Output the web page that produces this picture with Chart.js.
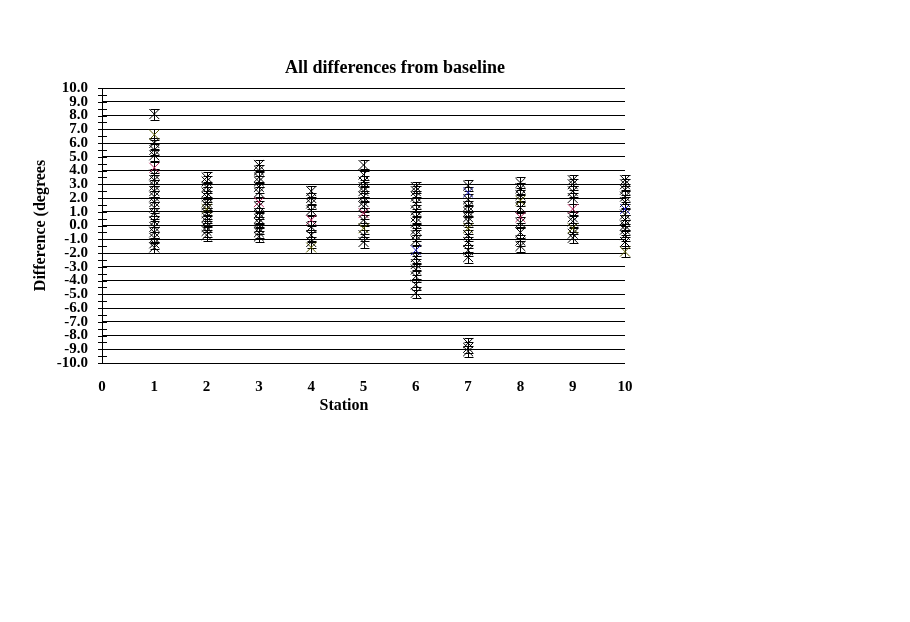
<!DOCTYPE html>
<html>
<head>
<meta charset="utf-8">
<script src="https://cdn.jsdelivr.net/npm/chart.js@4.4.1/dist/chart.umd.min.js"></script>
<style>
  body { margin: 0; background: #fff; }
  #chart { display: block; }
</style>
</head>
<body>
<canvas id="chart" width="910" height="622"></canvas>
<script>
// stations on the x axis
const stations = [1, 2, 3, 4, 5, 6, 7, 8, 9, 10];

// differences (degrees) per station, black markers
const station1 = [8.1, 6.0, 5.5, 5.1, 3.7, 3.3, 2.9, 2.5, 2.1, 1.7, 1.3, 0.9, 0.3, -0.1, -0.5, -0.9, -1.3, -1.6];
const station2 = [3.5, 3.2, 2.8, 2.4, 2.1, 1.7, 1.5, 0.9, 0.6, 0.3, -0.1, -0.4, -0.7];
const station3 = [4.4, 4.0, 3.5, 3.2, 2.8, 2.4, 1.4, 0.9, 0.5, 0.2, -0.2, -0.5, -0.8];
const station4 = [2.5, 2.0, 1.6, 1.1, -0.1, -0.7, -1.2];
const station5 = [4.4, 3.7, 3.2, 2.8, 2.5, 2.1, 1.7, 1.4, 0.4, -0.7, -1.2];
const station6 = [2.8, 2.5, 2.1, 1.6, 1.1, 0.6, 0.2, -0.3, -0.7, -1.1, -2.3, -2.8, -3.2, -3.7, -4.3, -4.9];
const station7 = [2.9, 1.9, 1.4, 1.0, 0.6, 0.3, -0.7, -1.2, -1.8, -2.3, -8.55, -8.9, -9.15];
const station8 = [3.1, 2.7, 2.2, 1.3, 0.2, -0.5, -1.1, -1.5];
const station9 = [3.3, 3.0, 2.5, 2.0, 0.6, 0.3, -0.6, -0.9];
const station10 = [3.3, 3.0, 2.6, 2.1, 1.7, 0.8, 0.4, 0.0, -0.3, -0.7, -1.2];

// coloured markers (one per station or null)
const crimsonPts = [4.2, null, 1.7, 0.4, 0.9, null, null, 0.6, 1.2, null];
const olivePts = [6.6, 1.2, null, -1.6, -0.2, null, -0.2, 1.8, -0.2, -1.9];
const bluePts = [null, null, null, null, null, -1.8, 2.4, null, null, 1.2];

// error bar half length
const errHalf = 0.4;

const yTicks = [-10, -9, -8, -7, -6, -5, -4, -3, -2, -1, 0, 1, 2, 3, 4, 5, 6, 7, 8, 9, 10];

const blackLists = [station1, station2, station3, station4, station5, station6, station7, station8, station9, station10];

function toPoints(list) {
    var pts = [];
    stations.forEach(function (s, i) {
        if (list[i] !== null) pts.push({ x: s, y: list[i] });
    });
    return pts;
}

var blackPts = [];
stations.forEach(function (s, i) {
    blackLists[i].forEach(function (v) { blackPts.push({ x: s, y: v }); });
});

function markerSet(label, data, color) {
    return {
        label: label,
        data: data,
        pointStyle: 'crossRot',
        pointRadius: 7,
        pointHoverRadius: 7,
        borderWidth: 1,
        borderColor: color,
        backgroundColor: color,
        clip: false
    };
}

const extras = {
    id: 'extras',
    beforeDatasetsDraw(chart) {
        const ctx = chart.ctx, x = chart.scales.x, y = chart.scales.y;
        ctx.save();
        ctx.strokeStyle = '#000';
        ctx.lineWidth = 1;
        chart.data.datasets.forEach(function (ds) {
            ds.data.forEach(function (p) {
                const px = Math.round(x.getPixelForValue(p.x)) + 0.5;
                const top = Math.round(y.getPixelForValue(p.y + errHalf)) + 0.5;
                const bot = Math.round(y.getPixelForValue(p.y - errHalf)) + 0.5;
                ctx.beginPath();
                ctx.moveTo(px, top); ctx.lineTo(px, bot);
                ctx.moveTo(px - 4, top); ctx.lineTo(px + 5, top);
                ctx.moveTo(px - 4, bot); ctx.lineTo(px + 5, bot);
                ctx.stroke();
            });
        });
        ctx.restore();
    },
    afterDraw(chart) {
        const ctx = chart.ctx, y = chart.scales.y, area = chart.chartArea;
        ctx.save();
        // tick marks crossing the value axis every 0.5
        ctx.strokeStyle = '#000';
        ctx.lineWidth = 1;
        ctx.beginPath();
        for (let v = -10; v <= 10; v += 0.5) {
            const py = Math.round(y.getPixelForValue(v)) + 0.5;
            ctx.moveTo(area.left - 4, py);
            ctx.lineTo(area.left + 5, py);
        }
        ctx.stroke();
        // chart title and category axis title
        ctx.fillStyle = '#000';
        ctx.textAlign = 'center';
        ctx.textBaseline = 'alphabetic';
        ctx.font = 'bold 18px "Liberation Serif"';
        ctx.fillText('All differences from baseline', 395, 73);
        ctx.font = 'bold 16px "Liberation Serif"';
        ctx.fillText('Station', 344, 410);
        ctx.restore();
    }
};

new Chart(
    document.getElementById('chart'),
    {
        type: 'scatter',
        data: {
            datasets: [
                markerSet('Differences', blackPts, '#000000'),
                markerSet('Olive', toPoints(olivePts), '#5c5c00'),
                markerSet('Crimson', toPoints(crimsonPts), '#b82860'),
                markerSet('Blue', toPoints(bluePts), '#2020c0')
            ]
        },
        options: {
            responsive: false,
            animation: false,
            events: [],
            layout: {
                padding: { left: 0, top: 88, right: 285, bottom: 199 }
            },
            plugins: {
                legend: { display: false },
                tooltip: { enabled: false }
            },
            scales: {
                x: {
                    type: 'linear',
                    min: 0,
                    max: 10,
                    afterFit: function (scale) { scale.height = 60; },
                    grid: { display: false, drawTicks: false },
                    border: { display: false },
                    ticks: {
                        stepSize: 1,
                        padding: 15,
                        color: '#000',
                        font: { family: 'Liberation Serif', size: 15, weight: 'bold' }
                    }
                },
                y: {
                    type: 'linear',
                    min: -10,
                    max: 10,
                    afterFit: function (scale) { scale.width = 102; },
                    afterBuildTicks: function (scale) {
                        scale.ticks = yTicks.map(function (v) { return { value: v }; });
                    },
                    grid: { color: '#000', lineWidth: 1, drawTicks: false },
                    border: { display: true, color: '#000', width: 1 },
                    ticks: {
                        autoSkip: false,
                        padding: 14,
                        color: '#000',
                        font: { family: 'Liberation Serif', size: 15, weight: 'bold' },
                        callback: function (v) { return Number(v).toFixed(1); }
                    },
                    title: {
                        display: true,
                        text: 'Difference (degrees',
                        color: '#000',
                        padding: { top: 31, bottom: 0 },
                        font: { family: 'Liberation Serif', size: 16, weight: 'bold' }
                    }
                }
            }
        },
        plugins: [extras]
    }
);
</script>
</body>
</html>
